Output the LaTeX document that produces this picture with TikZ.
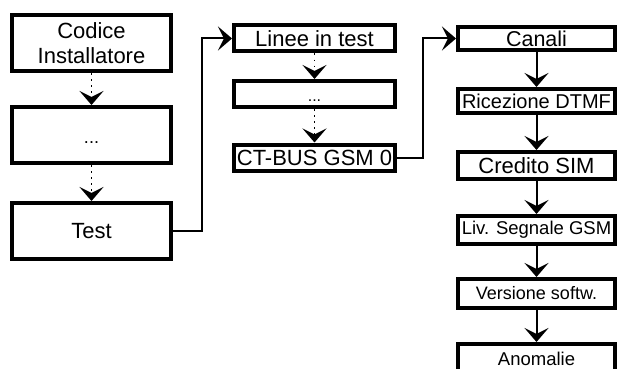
\documentclass[tikz,border=0pt]{standalone}
\usepackage{fontspec}
\setmainfont{Liberation Sans}
\usetikzlibrary{arrows.meta}
\begin{document}
\begin{tikzpicture}[x=1pt,y=-1pt,
  box/.style={draw, line width=4pt, rectangle, inner sep=0pt, align=center},
  leftbox/.style={box, minimum width=159pt, minimum height=56pt},
  midbox/.style={box, minimum width=161pt, minimum height=26pt},
  rightbox/.style={box, minimum width=157pt},
  lowdots/.style={text height=16pt, text depth=0pt},
  conn/.style={line width=2pt, -{Stealth[length=14pt,width=24pt,inset=6pt]}},
  dotconn/.style={conn, line width=1.6pt, dash pattern=on 1.6pt off 4.5pt},
  fs/.style={font=\fontsize{#1}{25}\selectfont}
]
\useasboundingbox (0,0) rectangle (619,369);
\clip (0,0) rectangle (619,369);

% left column
\node[leftbox, fs=22] (ci) at (91.5,43) {Codice\\Installatore};
\node[leftbox, fs=18, lowdots] (l2) at (91.5,135) {...};
\node[leftbox, fs=22] (test) at (91.5,231) {Test};

% middle column
\node[midbox, fs=22] (lt) at (314.5,38.5) {Linee in test};
\node[midbox, fs=16, lowdots] (m2) at (314.5,94) {...};
\node[midbox, fs=22] (ct) at (314.5,157.5) {CT-BUS GSM 0};

% right column
\node[rightbox, minimum height=23pt, fs=21.5] (canali) at (536.5,38.5) {Canali};
\node[rightbox, minimum height=24pt, fs=20] (ric) at (536.5,101) {Ricezione DTMF};
\node[rightbox, minimum height=27pt, fs=22] (cred) at (536.5,165.5) {Credito SIM};
\node[rightbox, minimum height=28pt, fs=18.5] (liv) at (536.5,230) {Liv. Segnale GSM};
\node[rightbox, minimum height=29pt, fs=18] (vers) at (536.5,293.5) {Versione softw.};
\node[rightbox, minimum height=36pt, fs=18.5, text height=13.5pt, text depth=6pt] (anom) at (536.5,362) {Anomalie};

% junction columns
\coordinate (j1) at (202,0);
\coordinate (j2) at (423,0);

% connectors
\draw[dotconn] (ci) -- (l2);
\draw[dotconn] (l2) -- (test);
\draw[dotconn] (lt) -- (m2);
\draw[dotconn] (m2) -- (ct);
\draw[conn] (test.east) -- (test.east -| j1) |- (lt.west);
\draw[conn] (ct.east) -- (ct.east -| j2) |- (canali.west);
\draw[conn] (canali) -- (ric);
\draw[conn] (ric) -- (cred);
\draw[conn] (cred) -- (liv);
\draw[conn] (liv) -- (vers);
\draw[conn] (vers) -- (anom);
\end{tikzpicture}
\end{document}
